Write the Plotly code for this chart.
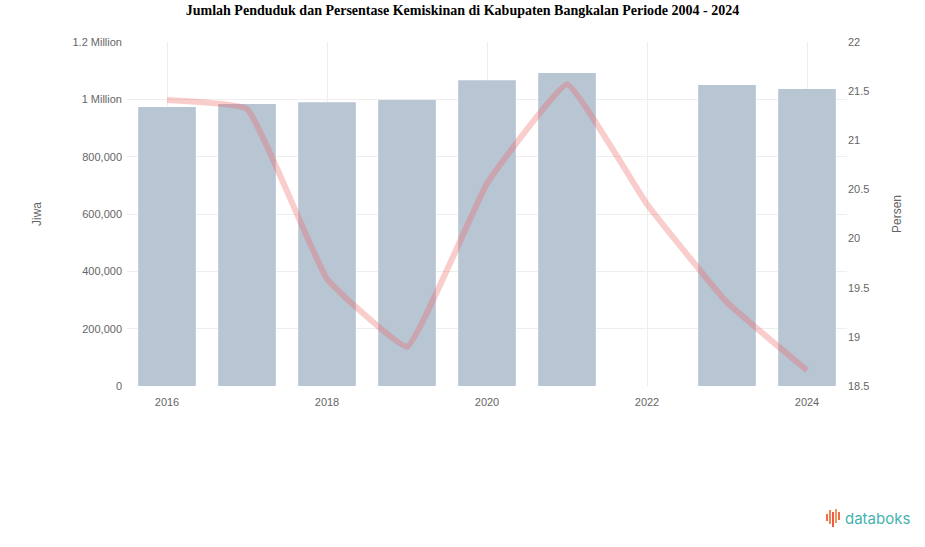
import plotly.graph_objects as go

years = [2016, 2017, 2018, 2019, 2020, 2021, 2022, 2023, 2024]
penduduk = [973000, 984000, 990000, 998000, 1067000, 1092000, None, 1050000, 1036000]
kemiskinan = [21.41, 21.32, 19.59, 18.90, 20.56, 21.57, 20.35, 19.35, 18.66]

left_tickvals = [0, 200000, 400000, 600000, 800000, 1000000, 1200000]
left_ticktext = ["0", "200,000", "400,000", "600,000", "800,000", "1 Million", "1.2 Million"]
right_tickvals = [18.5, 19, 19.5, 20, 20.5, 21, 21.5, 22]
right_ticktext = ["18.5", "19", "19.5", "20", "20.5", "21", "21.5", "22"]
x_tickvals = [2016, 2018, 2020, 2022, 2024]

W, H = 925, 547
ML, MR, MT, MB = 127, 78, 42, 161
PW, PH = W - ML - MR, H - MT - MB


def px(x):
    return (x - ML) / PW


def py(y):
    return (H - MB - y) / PH


fig = go.Figure()
fig.add_trace(go.Bar(
    x=years, y=penduduk, name="Jiwa",
    marker=dict(color="#b8c5d3", line=dict(width=0)),
    width=0.72, yaxis="y",
))
fig.add_trace(go.Scatter(
    x=years, y=kemiskinan, name="Persen", mode="lines",
    line=dict(color="rgba(240,100,100,0.32)", width=6, shape="spline", smoothing=0.3),
    yaxis="y2", connectgaps=True,
))

tickfont = dict(family="Liberation Sans, Arial, sans-serif", size=11, color="#666666")

fig.update_layout(
    width=W, height=H,
    margin=dict(l=ML, r=MR, t=MT, b=MB, autoexpand=False),
    paper_bgcolor="white", plot_bgcolor="white",
    showlegend=False,
    bargap=0.28,
    title=dict(
        text="<b>Jumlah Penduduk dan Persentase Kemiskinan di Kabupaten Bangkalan Periode 2004 - 2024</b>",
        x=0.5, xanchor="center", y=1 - 10 / H, yanchor="middle",
        font=dict(family="Liberation Serif, Times New Roman, serif", size=14, color="#000000"),
    ),
    xaxis=dict(
        range=[2015.5, 2024.5], tickvals=x_tickvals, ticktext=[str(v) for v in x_tickvals],
        showgrid=True, gridcolor="#eeeeee", gridwidth=1,
        zeroline=False, showline=False, ticks="", tickfont=tickfont, ticklabelstandoff=8,
    ),
    yaxis=dict(
        range=[0, 1200000], tickvals=left_tickvals, ticktext=left_ticktext,
        showgrid=True, gridcolor="#eeeeee", zeroline=False, showline=False,
        tickfont=tickfont, ticks="", ticklabelstandoff=4,
        title=dict(text="Jiwa", font=dict(family="Liberation Sans, Arial, sans-serif", size=12, color="#666666"), standoff=28),
    ),
    yaxis2=dict(
        range=[18.5, 22], tickvals=right_tickvals, ticktext=right_ticktext,
        overlaying="y", side="right", showgrid=False, zeroline=False, showline=False,
        tickfont=tickfont, ticks="",
        title=dict(text="Persen", font=dict(family="Liberation Sans, Arial, sans-serif", size=12, color="#666666"), standoff=24),
    ),
)

# databoks logo
fig.add_annotation(
    x=px(843), y=py(518), xref="paper", yref="paper", xanchor="left", yanchor="middle",
    text="databoks", showarrow=False,
    font=dict(family="Inter, Liberation Sans, sans-serif", size=15, color="#45b3ae"),
)
icon = [(827, 514, 521, "#f26b4f"), (830, 510, 524, "#f2844f"), (833, 512, 527, "#ef5b4a"),
        (836, 509, 523, "#f29a4f"), (839, 512, 520, "#f26b4f")]
for x, y0, y1, c in icon:
    fig.add_shape(type="line", xref="paper", yref="paper",
                  x0=px(x), x1=px(x), y0=py(y0), y1=py(y1),
                  line=dict(color=c, width=2))

fig.write_html("out.html", config={"displayModeBar": False},
               post_script="document.body.style.margin='0';")
